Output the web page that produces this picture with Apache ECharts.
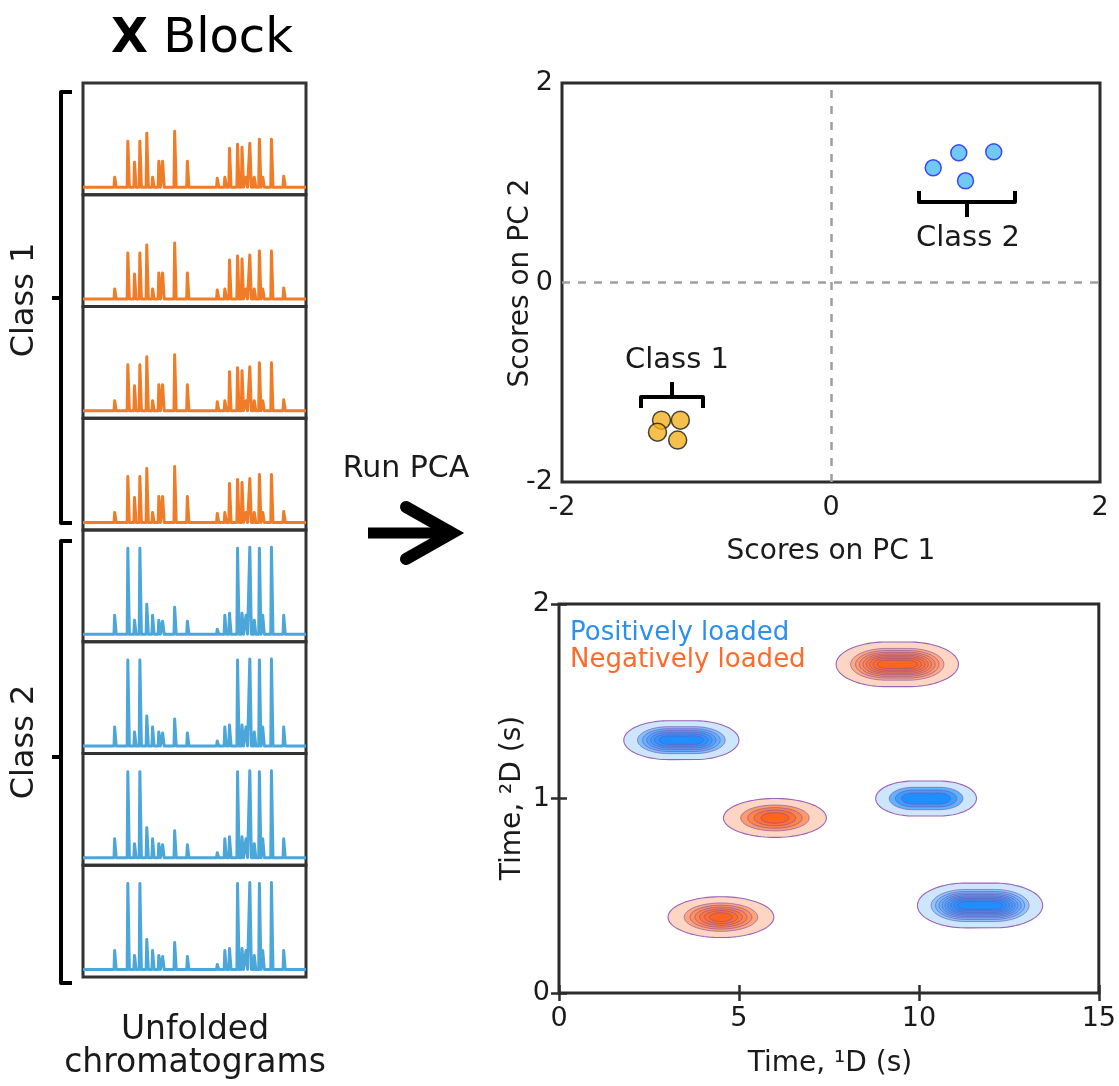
<!DOCTYPE html>
<html><head><meta charset="utf-8">
<script src="https://cdn.jsdelivr.net/npm/echarts@6/dist/echarts.min.js"></script>
<style>html,body{margin:0;padding:0;background:#fff}#c{width:1119px;height:1086px}</style>
</head><body><div id="c"></div>
<script>
const FONT = 'DejaVu Sans';
const TXT = '#1a1a1a';

// ---------- Unfolded chromatograms (X block) ----------
const peakPositions = [9.1,14.4,17.7,20.3,23.3,25.7,28.8,31.4,34.2,35.9,41.3,47.0,52.6,60.4,63.8,65.9,69.5,71.5,73.3,75.0,77.0,79.3,80.8,84.7,90.2,95.8];
const class1Heights = [1,10,1.5,46,25,46,54,10,26,26,56,26,1.5,9,10,39,43,40,10,44,10,48,10,48,11,1];
const class2Heights = [1.5,19,1.5,86,14,86,30,19,14,13,27,13,1.5,5,19,21,86,21,19,87,14,86,19,87,19,1];
const sampleClass = [1,1,1,1,2,2,2,2];

// ---------- PCA scores ----------
const class1PC1 = [-1.26,-1.12,-1.29,-1.14];
const class1PC2 = [-1.38,-1.38,-1.50,-1.58];
const class2PC1 = [0.76,0.95,1.21,1.00];
const class2PC2 = [1.15,1.30,1.31,1.02];

// ---------- Loadings contour blobs ----------
const blobT1 = [9.4, 3.4, 10.2, 6.0, 4.5, 11.7];
const blobT2 = [1.69, 1.30, 1.00, 0.90, 0.39, 0.45];
const blobSign = [-1, 1, 1, -1, -1, 1];
const blobLevels = [9, 7, 4, 5, 7, 10];
const blobPlateau = [0.3, 0.35, 0.35, 0, 0, 0.4];
const blobWidth = [1.4, 1.25, 1.05, 1.43, 1.47, 1.34];
const blobHeight = [0.115, 0.10, 0.09, 0.10, 0.105, 0.115];

function spikes(h){
  const d=[[0,0]];
  peakPositions.forEach((p,i)=>{ d.push([p-0.5,0],[p-0.2,h[i]],[p+0.2,h[i]],[p+0.5,0]); });
  d.push([100,0]); return d;
}
function hex2rgb(h){return [1,3,5].map(i=>parseInt(h.substr(i,2),16));}
function mix(a,b,t){const A=hex2rgb(a),B=hex2rgb(b);return 'rgb('+A.map((v,i)=>Math.round(v+(B[i]-v)*t)).join(',')+')';}
const negPale='#fdd6c3', negSat='#ff6420', posPale='#cde6fb', posSat='#1e8fff';

function renderBlob(params, api){
  const i = params.dataIndex;
  const cx = api.value(0), cy = api.value(1);
  const n = blobLevels[i], w = blobPlateau[i], sx = blobWidth[i], sy = blobHeight[i];
  const pale = blobSign[i]>0?posPale:negPale, sat = blobSign[i]>0?posSat:negSat;
  const children=[];
  for(let k=1;k<=n;k++){
    let r = Math.sqrt(Math.log((n+1)/k)/Math.log(n+1));
    if(k>1) r*=0.85;
    const pts=[];
    for(let j=0;j<=96;j++){
      const t=j/96*2*Math.PI, c=Math.cos(t), s=Math.sin(t);
      const dx=(c>=0?w:-w)+r*sx*c;
      pts.push(api.coord([cx+dx, cy+r*sy*s]));
    }
    const tt = n>1?Math.pow((k-1)/(n-1),0.45):1;
    children.push({type:'polygon',shape:{points:pts},style:{fill:mix(pale,sat,tt),stroke:k===1?'#9a62b8':'rgba(125,80,165,0.7)',lineWidth:k===1?1.1:0.9}});
  }
  return {type:'group',children};
}

const grids=[], xAxes=[], yAxes=[], series=[];
const panelTop=83, panelH=111.75;
for(let i=0;i<8;i++){
  grids.push({left:83,width:223,top:panelTop+i*panelH,height:panelH,show:true,borderColor:'#333',borderWidth:3,backgroundColor:'transparent'});
  xAxes.push({gridIndex:i,type:'value',min:0,max:100,show:false});
  yAxes.push({gridIndex:i,type:'value',min:-7.5,max:104.25,show:false});
  series.push({type:'line',xAxisIndex:i,yAxisIndex:i,data:spikes(sampleClass[i]===1?class1Heights:class2Heights),
    showSymbol:false,symbol:'none',silent:true,lineStyle:{width:3,color:sampleClass[i]===1?'#f07c28':'#4ba6d9',join:'round'}});
}
const labFont={fontFamily:FONT,fontSize:27,color:TXT,showMinLabel:true,showMaxLabel:true};
// scatter grid (8)
grids.push({left:562,width:538,top:83,height:399,show:true,borderColor:'#2b2b2b',borderWidth:3,backgroundColor:'transparent'});
xAxes.push({gridIndex:8,type:'value',min:-2,max:2,interval:2,axisLine:{show:false},axisTick:{show:false},splitLine:{show:false},
  axisLabel:Object.assign({margin:12},labFont)});
yAxes.push({gridIndex:8,type:'value',min:-2,max:2,interval:2,axisLine:{show:false},axisTick:{show:false},splitLine:{show:false},
  axisLabel:Object.assign({margin:9},labFont)});
// contour grid (9)
grids.push({left:559,width:541,top:604,height:389,show:true,borderColor:'#2b2b2b',borderWidth:3,backgroundColor:'transparent'});
const tickStyle={show:true,inside:true,length:8,lineStyle:{color:'#2b2b2b',width:2.5}};
xAxes.push({gridIndex:9,type:'value',min:0,max:15,interval:5,axisLine:{show:false},axisTick:tickStyle,splitLine:{show:false},
  axisLabel:Object.assign({margin:12},labFont)});
yAxes.push({gridIndex:9,type:'value',min:0,max:2,interval:1,axisLine:{show:false},axisTick:tickStyle,splitLine:{show:false},
  axisLabel:Object.assign({margin:9},labFont)});
xAxes.push({gridIndex:9,type:'value',position:'top',min:0,max:15,interval:5,axisLine:{show:false},axisTick:tickStyle,axisLabel:{show:false},splitLine:{show:false}});
yAxes.push({gridIndex:9,type:'value',position:'right',min:0,max:2,interval:1,axisLine:{show:false},axisTick:tickStyle,axisLabel:{show:false},splitLine:{show:false}});

series.push({type:'scatter',xAxisIndex:8,yAxisIndex:8,symbolSize:18,z:5,
  data:class1PC1.map((x,i)=>[x,class1PC2[i]]),itemStyle:{color:'#f2b01e',borderColor:'#1a1a1a',borderWidth:1.5},
  markLine:{silent:true,symbol:'none',label:{show:false},lineStyle:{color:'#9e9e9e',type:[8,8],width:2.5},
    data:[{xAxis:0},{yAxis:0}]}});
series.push({type:'scatter',xAxisIndex:8,yAxisIndex:8,symbolSize:16,z:5,
  data:class2PC1.map((x,i)=>[x,class2PC2[i]]),itemStyle:{color:'#4bbcf0',borderColor:'#1f1ff5',borderWidth:1.5}});
series.push({type:'custom',xAxisIndex:9,yAxisIndex:9,renderItem:renderBlob,clip:true,silent:true,
  data:blobT1.map((x,i)=>[x,blobT2[i]]),encode:{x:0,y:1}});

const bl={stroke:'#000',lineWidth:4,fill:null,lineJoin:'round',lineCap:'butt'};
const ct=(x,y,text,size,extra)=>Object.assign({type:'text',x,y,style:{text,textAlign:'center',textVerticalAlign:'middle',font:size+'px '+FONT,fill:TXT}},extra||{});
const graphic=[
  {type:'text',x:202,y:40,style:{text:'{b|X} Block',textAlign:'center',textVerticalAlign:'middle',font:'48px '+FONT,fill:'#000',
    rich:{b:{fontFamily:FONT,fontSize:48,fontWeight:'bold',fill:'#000'}}}},
  {type:'polyline',shape:{points:[[72,92],[61,92],[61,523],[72,523]]},style:bl},
  {type:'line',shape:{x1:61,y1:298,x2:52,y2:298},style:bl},
  {type:'polyline',shape:{points:[[72,541],[61,541],[61,983],[72,983]]},style:bl},
  {type:'line',shape:{x1:61,y1:757,x2:52,y2:757},style:bl},
  ct(25,300,'Class 1',32,{rotation:Math.PI/2}),
  ct(25,742,'Class 2',32,{rotation:Math.PI/2}),
  ct(195,1030,'Unfolded',33),
  ct(195,1063,'chromatograms',33),
  ct(406,469,'Run PCA',30),
  {type:'line',shape:{x1:368,y1:533,x2:446,y2:533},style:{stroke:'#000',lineWidth:11}},
  {type:'polyline',shape:{points:[[406,507],[452,533],[406,559]]},style:{stroke:'#000',lineWidth:12,fill:null,lineCap:'round',lineJoin:'miter'}},
  // axis titles
  ct(831,552,'Scores on PC 1',28),
  ct(521,283,'Scores on PC 2',28,{rotation:Math.PI/2}),
  ct(830,1064,'Time, \u00b9D (s)',28),
  ct(513,798,'Time, \u00b2D (s)',28,{rotation:Math.PI/2}),
  // scatter annotations
  {type:'polyline',shape:{points:[[919,191],[919,202],[1015,202],[1015,191]]},style:bl},
  {type:'line',shape:{x1:967,y1:202,x2:967,y2:217},style:bl},
  ct(968,238,'Class 2',29),
  {type:'polyline',shape:{points:[[641,408],[641,397],[703,397],[703,408]]},style:bl},
  {type:'line',shape:{x1:672,y1:397,x2:672,y2:382},style:bl},
  ct(677,360,'Class 1',29),
  // contour legend
  {type:'text',x:570,y:633,style:{text:'Positively loaded',textAlign:'left',textVerticalAlign:'middle',font:'26px '+FONT,fill:'#2b8ff0'}},
  {type:'text',x:570,y:660,style:{text:'Negatively loaded',textAlign:'left',textVerticalAlign:'middle',font:'26px '+FONT,fill:'#ff6a2a'}}
];

const chart=echarts.init(document.getElementById('c'),null,{renderer:'canvas'});
chart.setOption({animation:false,backgroundColor:'#fff',grid:grids,xAxis:xAxes,yAxis:yAxes,series,graphic});
</script></body></html>
